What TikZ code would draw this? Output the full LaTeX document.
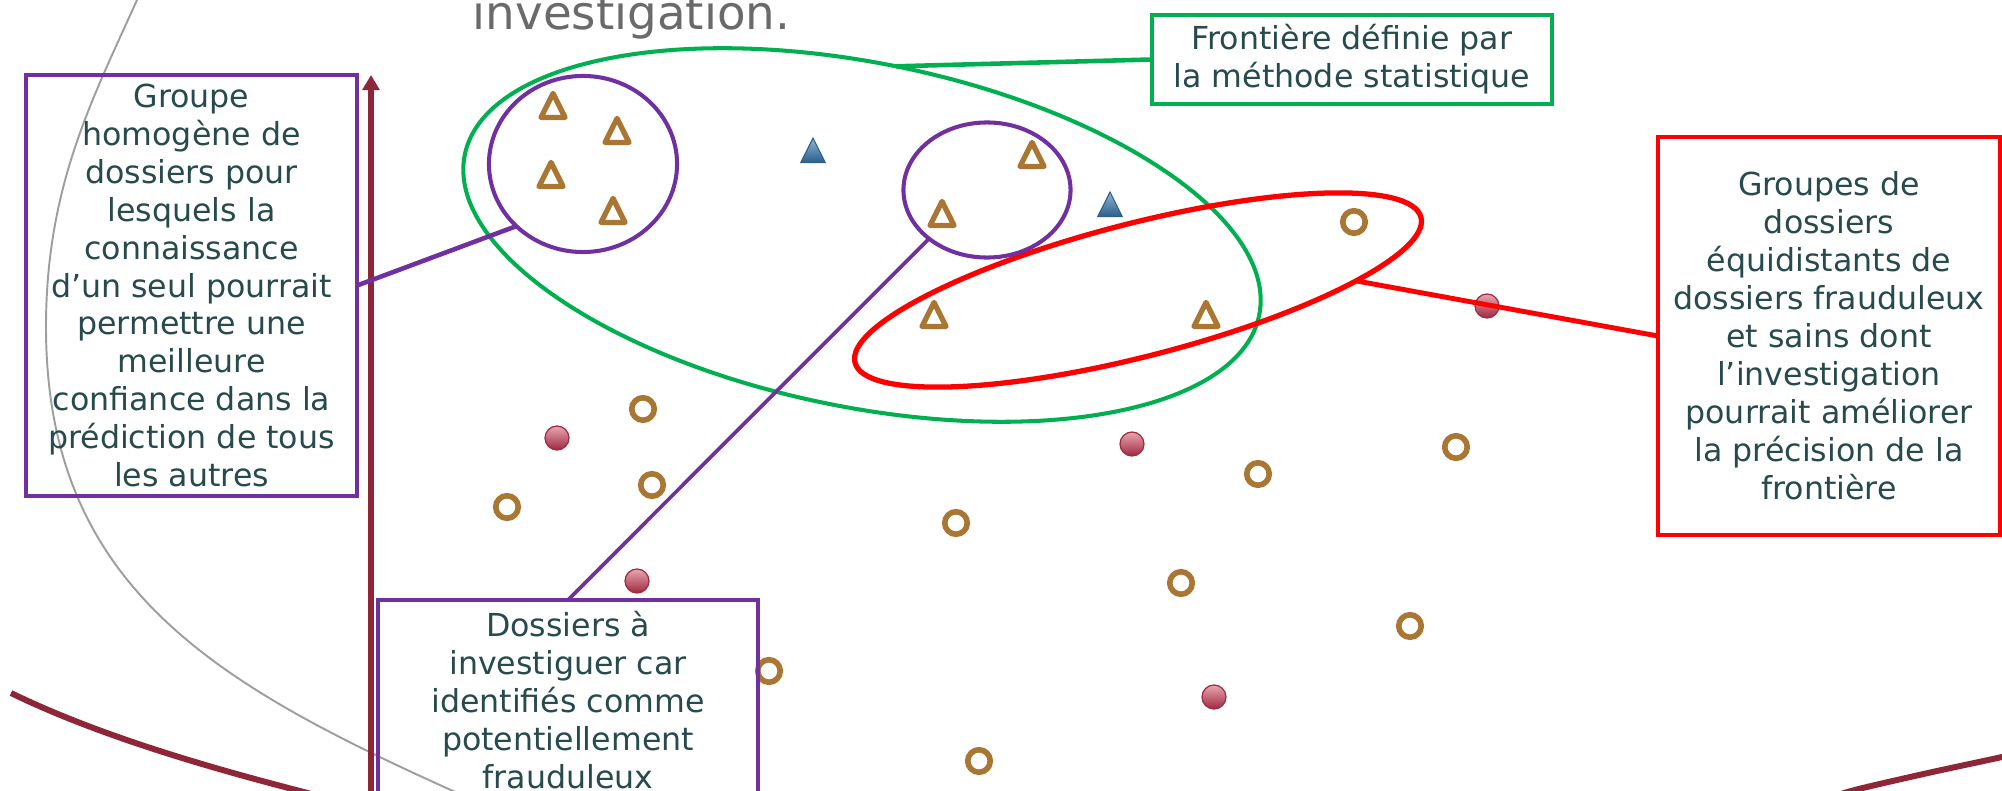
\documentclass[tikz,border=0pt]{standalone}
\usepackage{fontspec}
\setmainfont{DejaVu Sans}
\usetikzlibrary{shapes.geometric,arrows.meta}
\definecolor{slidetext}{HTML}{274A4D}
\definecolor{slidegray}{HTML}{6A6A6A}
\definecolor{frpurple}{HTML}{7030A0}
\definecolor{frgreen}{HTML}{00B050}
\definecolor{frred}{HTML}{FF0000}
\definecolor{brun}{HTML}{A97634}
\definecolor{bordeaux}{HTML}{8E2637}
\definecolor{bleu}{HTML}{2A5F8C}
\definecolor{bleuclair}{HTML}{8FB4D6}
\definecolor{rose}{HTML}{E8A7B0}
\definecolor{rougefonce}{HTML}{A02840}
\tikzset{
  txtbox/.style={draw,line width=1.15pt,inner sep=0pt,outer sep=0pt,align=center,
    text=slidetext,font=\fontsize{9}{10.8}\selectfont},
  zone/.style={ellipse,draw,inner sep=0pt,outer sep=0pt}
}
\begin{document}
\begin{tikzpicture}
[x=0.01cm,y=-0.01cm,
 purplebox/.style={txtbox,draw=frpurple},
 greenbox/.style={txtbox,draw=frgreen},
 redbox/.style={txtbox,draw=frred},
 opentri/.style={isosceles triangle,isosceles triangle stretches,shape border rotate=90,
   minimum width=0.24cm,minimum height=0.24cm,inner sep=0pt,draw=brun,
   line width=1.5pt,line join=round},
 bluetri/.style={isosceles triangle,isosceles triangle stretches,shape border rotate=90,
   minimum width=0.245cm,minimum height=0.245cm,inner sep=0pt,draw=bleu,
   line width=0.3pt,top color=bleuclair,bottom color=bleu},
 opendot/.style={circle,minimum size=0.225cm,inner sep=0pt,draw=brun,line width=1.6pt},
 reddot/.style={circle,minimum size=0.24cm,inner sep=0pt,draw=rougefonce,
   line width=0.35pt,top color=rose,bottom color=rougefonce},
 link/.style={line width=1.3pt}]
\useasboundingbox (0,0) rectangle (2002,791);
%% background curves
\draw[slidegray!65,line width=0.55pt] (141,-12) -- (137,0)
  .. controls (92,100) and (46,187) .. (46,327)
  .. controls (46,587) and (216,684) .. (453,791) -- (480,803);
\draw[bordeaux,line width=1.7pt] (11,693) .. controls (97,735) and (207,767) .. (300,791)
  -- (330,799);
\draw[bordeaux,line width=1.7pt] plot[smooth] coordinates {(1810,805) (1851,791)
  (1928,773) (2002,757) (2040,748)};
%% axis
\coordinate (axbot) at (371,800);
\coordinate (axtop) at (371,75);
\draw[bordeaux,line width=1.55pt,-{Triangle[width=4.8pt,length=4.3pt]}] (axbot) -- (axtop);
%% title remnant
\node[anchor=base west,inner sep=0pt,text=slidegray,font=\fontsize{13.3}{15}\selectfont]
  (titre) at (472,30) {investigation.};
%% zones
\node[zone,draw=frgreen,line width=1.15pt,minimum width=8.1cm,minimum height=3.44cm,
  rotate=-11.4] (gfront) at (862,235) {};
\node[zone,draw=frred,line width=1.5pt,minimum width=5.84cm,minimum height=1.33cm,
  rotate=14.4] (rfront) at (1138,290) {};
\node[zone,draw=frpurple,line width=1.15pt,minimum width=1.88cm,minimum height=1.76cm]
  (pc1) at (583,164) {};
\node[zone,draw=frpurple,line width=1.15pt,minimum width=1.67cm,minimum height=1.35cm]
  (pc2) at (987,190) {};
%% data points
\foreach \x/\y [count=\i] in {553/110,617/135,551/179,613/215,1032/159,942/218,934/319,1206/319}
  \node[opentri] (tri\i) at (\x,\y) {};
\foreach \x/\y [count=\i] in {813/155,1110/209}
  \node[bluetri] (btri\i) at (\x,\y) {};
\foreach \x/\y [count=\i] in {643/409,652/485,507/507,956/523,1258/474,1456/447,1181/583,
  1410/626,769/671,979/761,1354/222}
  \node[opendot] (sain\i) at (\x,\y) {};
\foreach \x/\y [count=\i] in {1487/306,557/438,1132/444,637/581,1214/697}
  \node[reddot] (fraude\i) at (\x,\y) {};
%% text boxes
\node[purplebox,minimum width=3.31cm,minimum height=4.21cm] (groupe) at (191.5,285.5)
  {Groupe\\homogène de\\dossiers pour\\lesquels la\\connaissance\\d’un seul pourrait\\
   permettre une\\meilleure\\confiance dans la\\prédiction de tous\\les autres};
\node[purplebox,minimum width=3.8cm,minimum height=2cm] (dossiers) at (568,700)
  {Dossiers à\\investiguer car\\identifiés comme\\potentiellement\\frauduleux};
\node[greenbox,minimum width=4cm,minimum height=0.89cm] (frontiere) at (1352,59.5)
  {Frontière définie par\\la méthode statistique};
\node[redbox,line width=1.3pt,minimum width=3.42cm,minimum height=3.98cm] (groupes) at (1829,336)
  {Groupes de\\dossiers\\équidistants de\\dossiers frauduleux\\et sains dont\\
   l’investigation\\pourrait améliorer\\la précision de la\\frontière};
%% connectors
\draw[link,frpurple] (groupe.east) -- (pc1.223);
\draw[link,frpurple,line width=1.05pt] (pc2.220) -- (dossiers.north);
\draw[link,frgreen] (gfront.north) -- (frontiere.west);
\draw[link,frred,line width=1.4pt] (rfront.-12) -- (groupes.west);
\end{tikzpicture}
\end{document}
